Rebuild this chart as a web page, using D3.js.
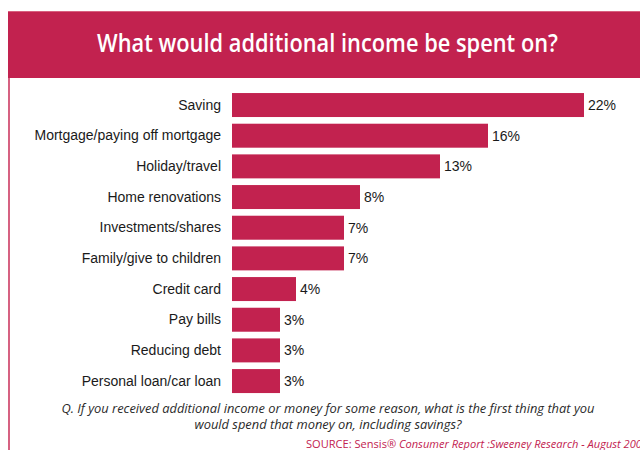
<!DOCTYPE html>
<html>
<head>
<meta charset="utf-8">
<script src="https://cdnjs.cloudflare.com/ajax/libs/d3/7.8.5/d3.min.js"></script>
<style>
  html, body { margin: 0; padding: 0; background: #fff; }
  svg { display: block; }
</style>
</head>
<body>
<svg id="chart" width="640" height="450"></svg>
<script>
// Survey answers (share of respondents, %)
const categories = [
  "Saving",
  "Mortgage/paying off mortgage",
  "Holiday/travel",
  "Home renovations",
  "Investments/shares",
  "Family/give to children",
  "Credit card",
  "Pay bills",
  "Reducing debt",
  "Personal loan/car loan"
];
const shares = [22, 16, 13, 8, 7, 7, 4, 3, 3, 3];
const valueLabels = ["22%", "16%", "13%", "8%", "7%", "7%", "4%", "3%", "3%", "3%"];

const titleText = "What would additional income be spent on?";
const questionLines = [
  "Q. If you received additional income or money for some reason, what is the first thing that you",
  "would spend that money on, including savings?"
];
const sourcePlain = "SOURCE: Sensis® ";
const sourceItalic = "Consumer Report :Sweeney Research - August 2006";

const crimson = "#C2224F";
const svg = d3.select("#chart");

// Header band and frame
svg.append("rect")
  .attr("x", 8).attr("y", 11).attr("width", 632).attr("height", 67)
  .attr("fill", crimson);
svg.append("line")
  .attr("x1", 8).attr("x2", 640).attr("y1", 11.5).attr("y2", 11.5)
  .attr("stroke", "#D8607F").attr("stroke-width", 1);
svg.append("line")
  .attr("x1", 9).attr("x2", 9).attr("y1", 78).attr("y2", 450)
  .attr("stroke", "#CC3A62").attr("stroke-width", 1.6);

svg.append("text")
  .attr("x", 327.5).attr("y", 52)
  .attr("text-anchor", "middle")
  .attr("textLength", 461).attr("lengthAdjust", "spacingAndGlyphs")
  .attr("font-family", "'Open Sans', sans-serif")
  .attr("font-weight", 600)
  .attr("font-size", 26)
  .attr("fill", "#fff")
  .text(titleText);

// Scales
const x = d3.scaleLinear().domain([0, 22]).range([232, 584]);
const y = d3.scaleBand()
  .domain(categories)
  .range([89.7, 396.4])
  .paddingInner(0.218)
  .paddingOuter(0.109);

// Category axis (labels only)
const yAxis = d3.axisLeft(y).tickSize(0).tickPadding(0);
const gAxis = svg.append("g")
  .attr("transform", `translate(${221},0)`)
  .call(yAxis);
gAxis.select(".domain").remove();
gAxis.selectAll("text")
  .attr("font-family", "'Liberation Sans', Arial, sans-serif")
  .attr("font-size", 14)
  .attr("fill", "#1a1a1a");

// Bars
svg.append("g").selectAll("rect")
  .data(categories)
  .join("rect")
  .attr("x", x(0))
  .attr("y", d => y(d))
  .attr("width", (d, i) => x(shares[i]) - x(0))
  .attr("height", y.bandwidth())
  .attr("fill", crimson);

// Value labels
svg.append("g").selectAll("text")
  .data(categories)
  .join("text")
  .attr("x", (d, i) => x(shares[i]) + 4)
  .attr("y", d => y(d) + y.bandwidth() / 2)
  .attr("dy", "0.36em")
  .attr("font-family", "'Liberation Sans', Arial, sans-serif")
  .attr("font-size", 14)
  .attr("fill", "#1a1a1a")
  .text((d, i) => valueLabels[i]);

// Question text
const qWidths = [533, 267];
const qBase = [413, 429];
questionLines.forEach((line, i) => {
  svg.append("text")
    .attr("x", 328).attr("y", qBase[i])
    .attr("text-anchor", "middle")
    .attr("textLength", qWidths[i]).attr("lengthAdjust", "spacingAndGlyphs")
    .attr("font-family", "'Open Sans', sans-serif")
    .attr("font-style", "italic")
    .attr("font-size", 12.5)
    .attr("fill", "#2a2a2a")
    .text(line);
});

// Source line
const src = svg.append("text")
  .attr("x", 306).attr("y", 448)
  .attr("textLength", 342).attr("lengthAdjust", "spacingAndGlyphs")
  .attr("font-family", "'Open Sans', sans-serif")
  .attr("font-size", 11.5)
  .attr("fill", crimson);
src.append("tspan").text(sourcePlain);
src.append("tspan").attr("font-style", "italic").text(sourceItalic);
</script>
</body>
</html>
